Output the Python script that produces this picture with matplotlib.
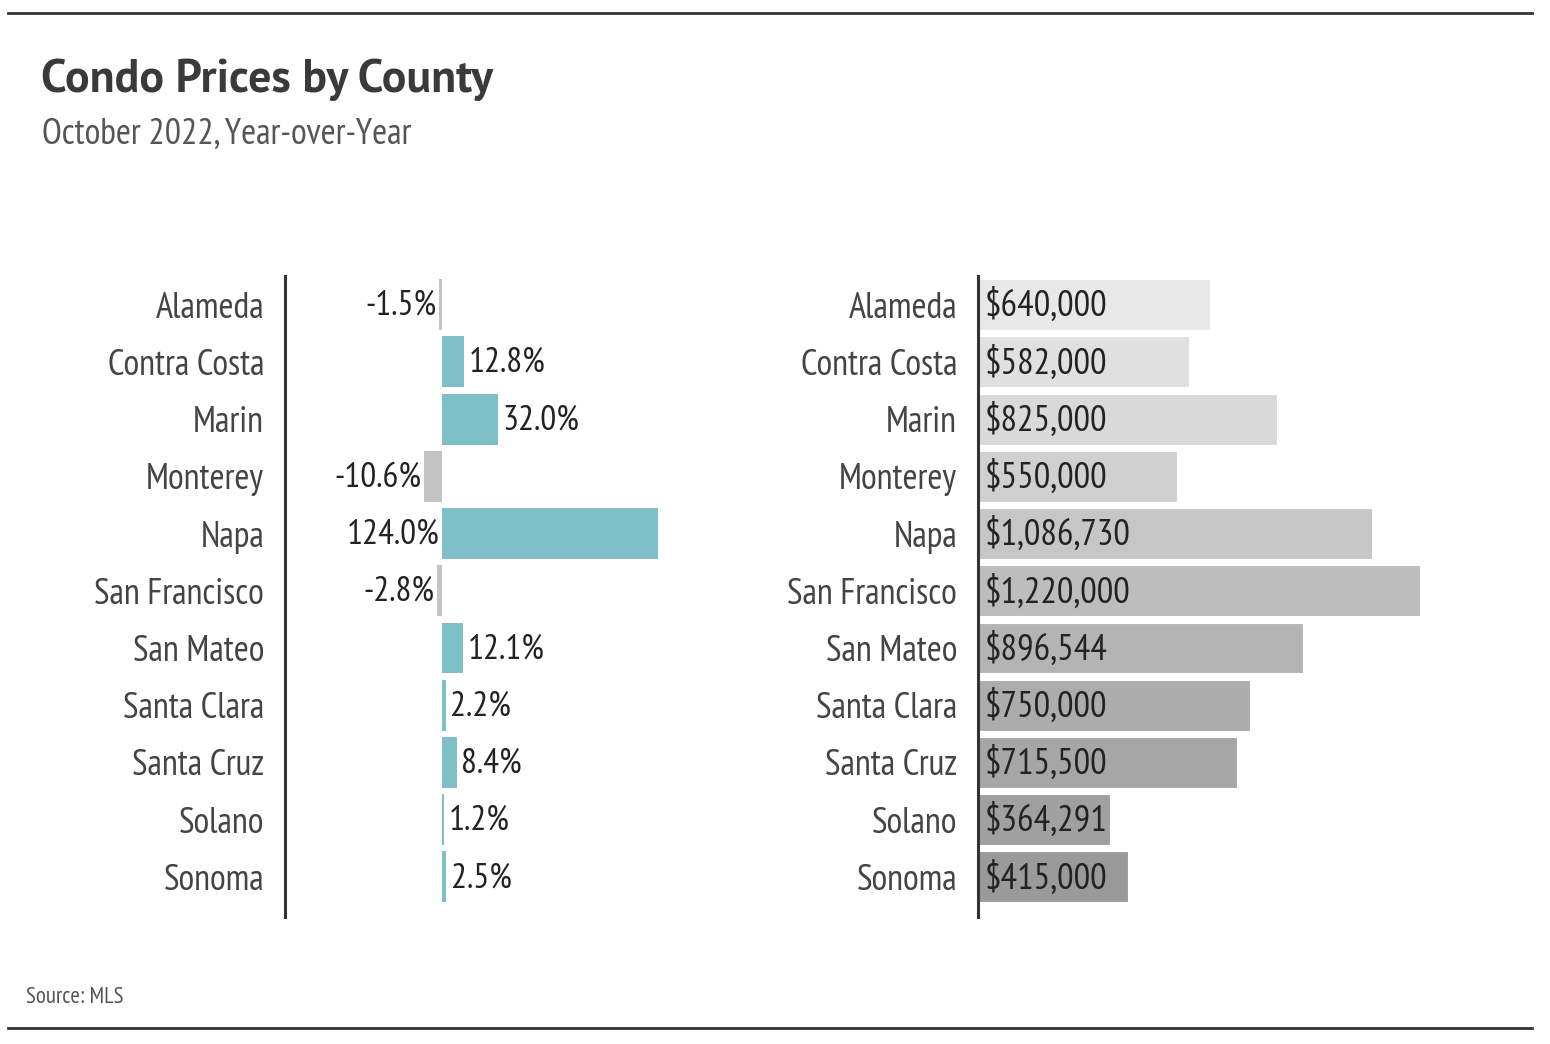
import matplotlib
matplotlib.use("Agg")
import matplotlib.pyplot as plt
from matplotlib.lines import Line2D

plt.rcParams['font.family'] = ['PT Sans Narrow', 'Archivo Narrow', 'DejaVu Sans']

counties = ["Alameda", "Contra Costa", "Marin", "Monterey", "Napa", "San Francisco",
            "San Mateo", "Santa Clara", "Santa Cruz", "Solano", "Sonoma"]
yoy_change = [-1.5, 12.8, 32.0, -10.6, 124.0, -2.8, 12.1, 2.2, 8.4, 1.2, 2.5]
median_price = [640000, 582000, 825000, 550000, 1086730, 1220000, 896544,
                750000, 715500, 364291, 415000]
price_greys = ["#e8e8e8", "#e0e0e0", "#d9d9d9", "#d0d0d0", "#c6c6c6", "#bdbdbd",
               "#b4b4b4", "#acacac", "#a6a6a6", "#a0a0a0", "#9a9a9a"]

teal = "#7fbfc8"
neg_grey = "#c4c4c4"
label_col = "#444444"
value_col = "#222222"

fig = plt.figure(figsize=(15.5, 10.44), dpi=100)
W, H = 1550, 1044

def fx(px):
    return px / W

def fy(py):
    return 1 - py / H

# frame lines and headings
fig.add_artist(Line2D([fx(8), fx(1532)], [fy(13), fy(13)], color="#333333", lw=2))
fig.add_artist(Line2D([fx(8), fx(1532)], [fy(1028), fy(1028)], color="#333333", lw=2))
fig.text(fx(41), fy(92), "Condo Prices by County", fontsize=33, fontweight="bold",
         color="#3a3a3a", va="baseline", family=["PT Sans", "PT Sans Narrow", "DejaVu Sans"])
fig.text(fx(42), fy(144), "October 2022, Year-over-Year", fontsize=26,
         color="#555555", va="baseline")
fig.text(fx(26), fy(1003), "Source: MLS", fontsize=16.5, color="#555555", va="baseline")

top, bot = 276, 917
ax_l = fig.add_axes([fx(285), fy(bot), fx(700 - 285), (bot - top) / H])
ax_r = fig.add_axes([fx(978), fy(bot), fx(1530 - 978), (bot - top) / H])

ypos = list(range(len(counties)))

for ax in (ax_l, ax_r):
    for s in ("top", "right", "bottom"):
        ax.spines[s].set_visible(False)
    ax.spines["left"].set_color("#333333")
    ax.spines["left"].set_linewidth(2.2)
    ax.set_yticks(ypos)
    ax.set_yticklabels(counties, fontsize=26, color=label_col)
    ax.tick_params(axis="y", length=0, pad=15)
    ax.set_xticks([])
    ax.set_ylim(10.7, -0.5)

# left panel: year-over-year change
cols = [teal if v > 0 else neg_grey for v in yoy_change]
ax_l.barh(ypos, yoy_change, height=0.89, color=cols)
ax_l.set_xlim(-90.1, 148.1)
for y, v in zip(ypos, yoy_change):
    txt = f"{v:.1f}%"
    if v < 0 or v > 100:
        ax_l.text(min(v, 0) - 1.5, y + 0.02, txt, ha="right", va="center",
                  fontsize=25.5, color=value_col)
    else:
        ax_l.text(v + 2.5, y + 0.02, txt, ha="left", va="center",
                  fontsize=25.5, color=value_col)

# right panel: median price
ax_r.barh(ypos, median_price, height=0.89, color=price_greys, edgecolor="white",
          linewidth=0.8)
ax_r.set_xlim(0, 1.5236e6)
for y, v in zip(ypos, median_price):
    ax_r.text(17000, y + 0.02, f"${v:,}", ha="left", va="center", fontsize=26.5,
              color=value_col)

fig.savefig("out.png", dpi=100, facecolor="white")
